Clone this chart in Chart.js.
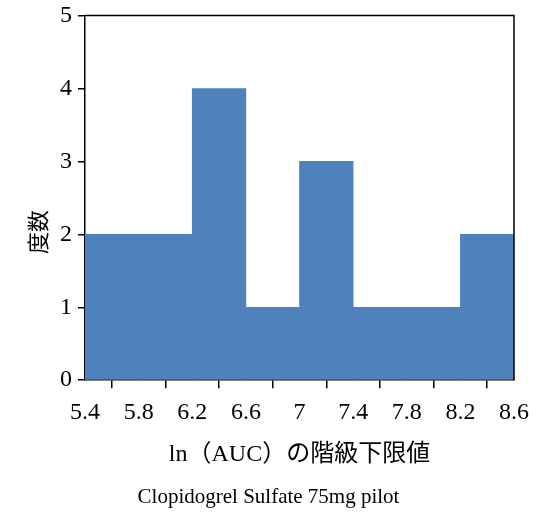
<!DOCTYPE html>
<html>
<head>
<meta charset="utf-8">
<script src="https://cdn.jsdelivr.net/npm/chart.js@4.4.0/dist/chart.umd.min.js"></script>
<style>
html,body{margin:0;padding:0;background:#fff;}
#wrap{width:537px;height:520px;}
</style>
</head>
<body>
<div id="wrap"><canvas id="c" width="537" height="520"></canvas></div>
<script>
const binStarts = [5.4, 5.8, 6.2, 6.6, 7.0, 7.4, 7.8, 8.2];
const binWidth = 0.4;
const frequencies = [2, 2, 4, 1, 3, 1, 1, 2];
const xTickValues = [5.4, 5.8, 6.2, 6.6, 7.0, 7.4, 7.8, 8.2, 8.6];
const xTickLabels = ['5.4', '5.8', '6.2', '6.6', '7', '7.4', '7.8', '8.2', '8.6'];
const yTickValues = [0, 1, 2, 3, 4, 5];
const xTitle = 'ln（AUC）の階級下限値';
const yTitle = '度数';
const caption = 'Clopidogrel Sulfate 75mg pilot';

const serif = "'Liberation Serif', 'Times New Roman', serif";
const cjk = "'Liberation Serif', 'Noto Sans CJK JP', serif";

const framePlugin = {
  id: 'frame',
  afterDatasetsDraw(chart) {
    const a = chart.chartArea, ctx = chart.ctx;
    ctx.save();
    ctx.strokeStyle = '#000';
    ctx.lineWidth = 1.5;
    ctx.beginPath();
    ctx.moveTo(a.left, a.top);
    ctx.lineTo(a.right, a.top);
    ctx.lineTo(a.right, a.bottom);
    ctx.stroke();
    ctx.restore();
  }
};

const yTitlePlugin = {
  id: 'yTitle',
  afterDraw(chart) {
    const ctx = chart.ctx, a = chart.chartArea;
    ctx.save();
    ctx.translate(a.left - 47, (a.top + a.bottom) / 2 + 34);
    ctx.rotate(-Math.PI / 2);
    ctx.fillStyle = '#000';
    ctx.font = "22px 'Noto Sans CJK JP', serif";
    ctx.textAlign = 'center';
    ctx.textBaseline = 'middle';
    ctx.fillText(yTitle, 0, 0);
    ctx.restore();
  }
};

new Chart(document.getElementById('c'), {
  type: 'bar',
  data: {
    datasets: [{
      data: binStarts.map((s, i) => ({x: s + binWidth / 2, y: frequencies[i]})),
      backgroundColor: '#4F81BD',
      borderWidth: 0,
      barPercentage: 1,
      categoryPercentage: 1
    }]
  },
  options: {
    responsive: false,
    animation: false,
    events: [],
    layout: {padding: {top: 0, right: 23, bottom: 10, left: 23}},
    plugins: {
      legend: {display: false},
      tooltip: {enabled: false},
      title: {
        display: true,
        position: 'bottom',
        text: caption,
        color: '#000',
        font: {family: serif, size: 21, weight: 'normal'},
        padding: {top: 16, bottom: 0}
      }
    },
    scales: {
      x: {
        type: 'linear',
        offset: false,
        min: xTickValues[0],
        max: xTickValues[xTickValues.length - 1],
        afterBuildTicks(axis) { axis.ticks = xTickValues.map(v => ({value: v})); },
        afterFit(axis) { axis.paddingLeft = 5; axis.paddingRight = 5; },
        ticks: {
          autoSkip: false,
          maxRotation: 0,
          color: '#000',
          font: {family: serif, size: 24},
          padding: 10,
          callback(v) { const i = xTickValues.findIndex(t => Math.abs(t - v) < 1e-9); return i >= 0 ? xTickLabels[i] : ''; }
        },
        grid: {display: true, drawOnChartArea: false, drawTicks: true, tickLength: 8, color: '#000', lineWidth: 1.5},
        border: {display: true, color: '#000', width: 1.5},
        title: {display: true, text: xTitle, color: '#000', font: {family: cjk, size: 24}, padding: {top: 3, bottom: 0}}
      },
      y: {
        min: 0,
        max: 5,
        afterBuildTicks(axis) { axis.ticks = yTickValues.map(v => ({value: v})); },
        afterFit(axis) { axis.width = 62; },
        ticks: {color: '#000', font: {family: serif, size: 24, lineHeight: 0.8}, padding: 6},
        grid: {display: true, drawOnChartArea: false, drawTicks: true, tickLength: 7, color: '#000', lineWidth: 1.5},
        border: {display: true, color: '#000', width: 1.5}
      }
    }
  },
  plugins: [framePlugin, yTitlePlugin]
});
</script>
</body>
</html>
